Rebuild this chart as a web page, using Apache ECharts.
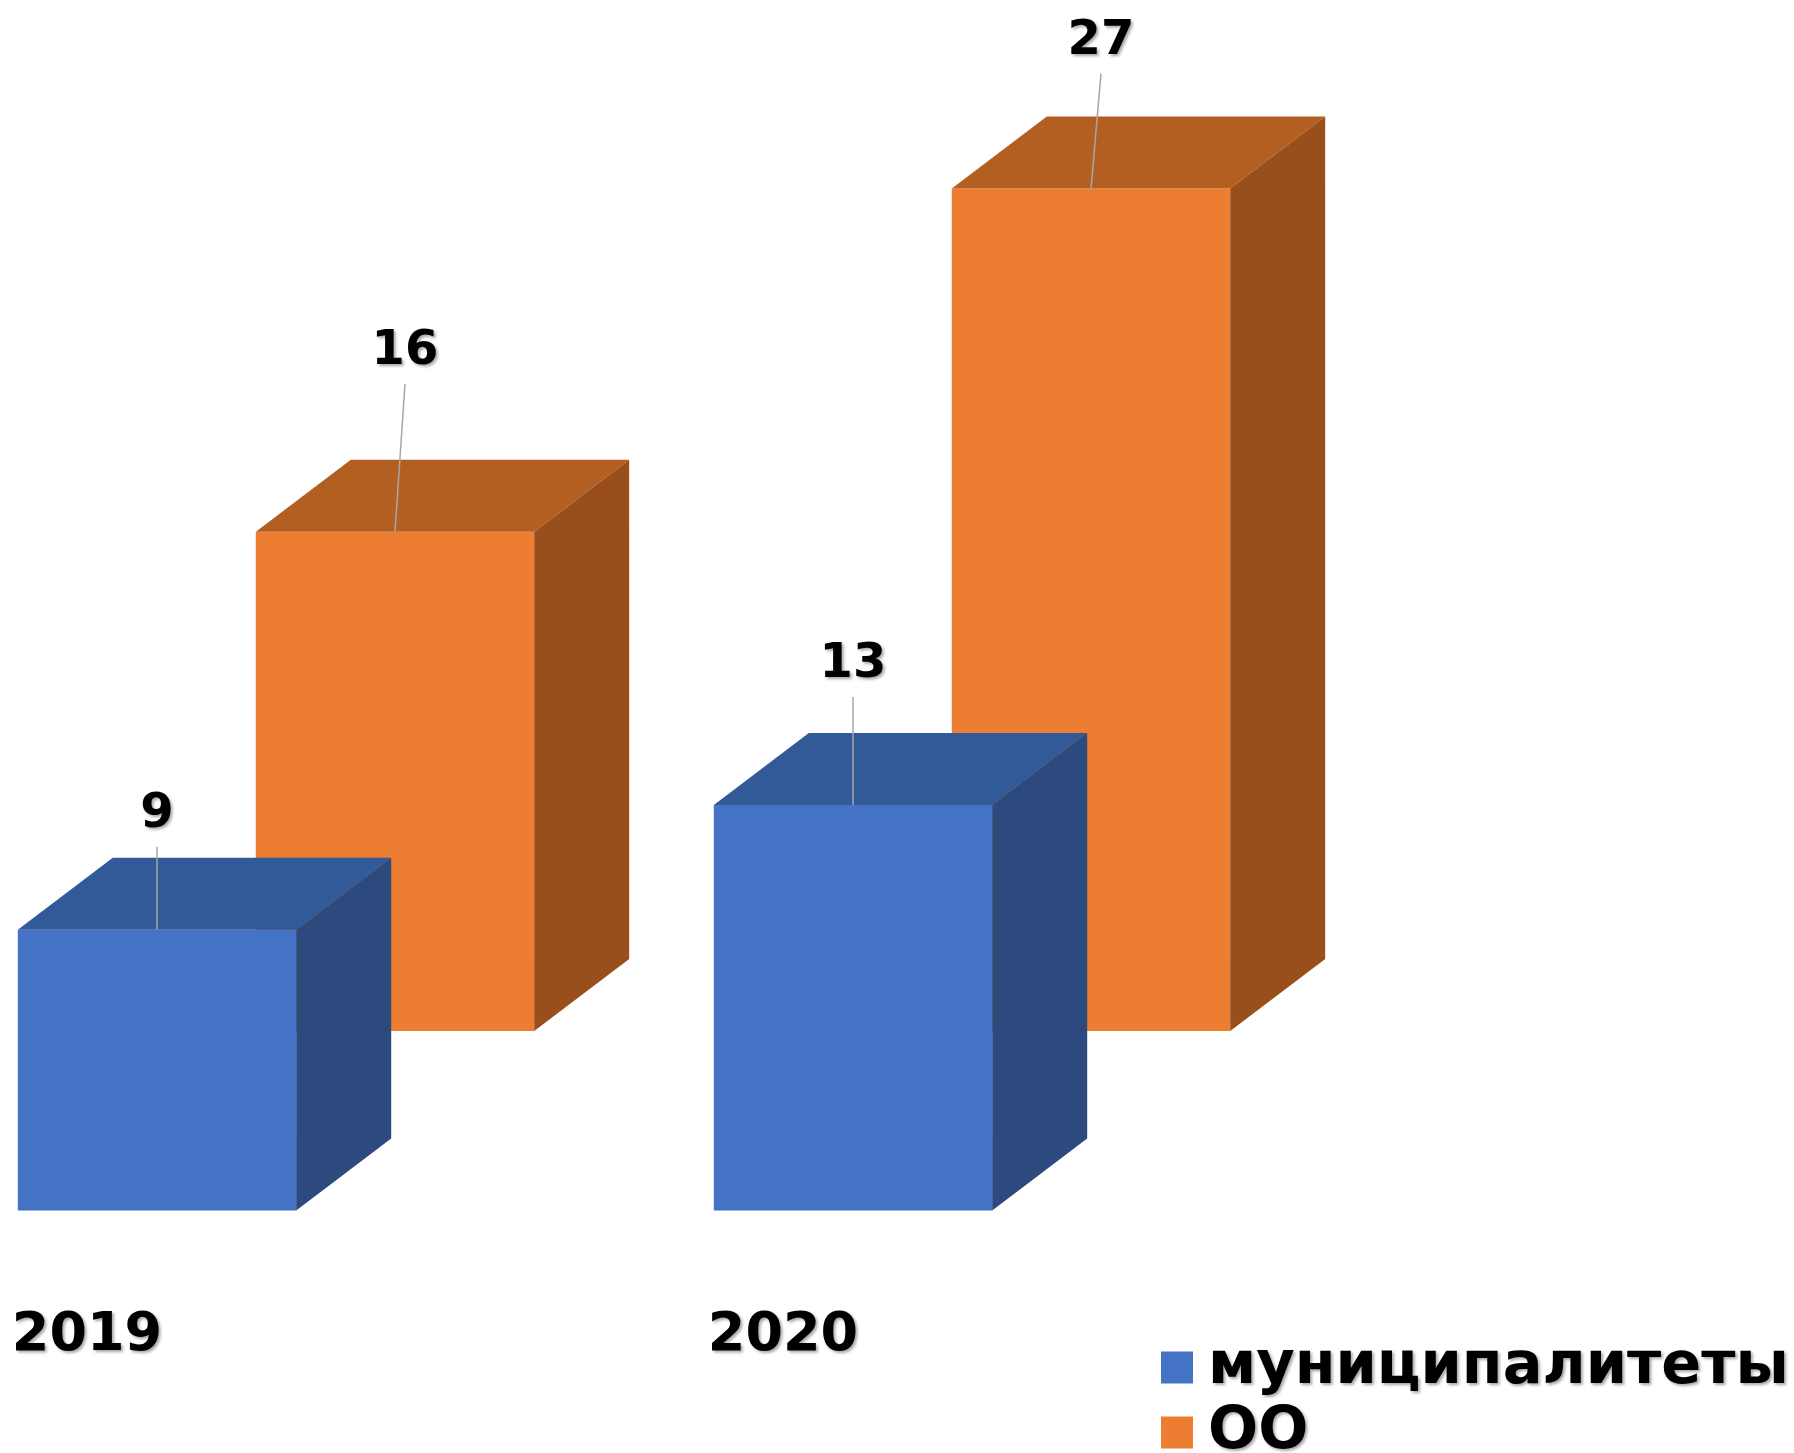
<!DOCTYPE html>
<html>
<head>
<meta charset="utf-8">
<script src="https://cdn.jsdelivr.net/npm/echarts@6/dist/echarts.min.js"></script>
<style>
  html, body { margin: 0; padding: 0; background: #fff; }
  #chart { width: 1794px; height: 1453px; }
</style>
</head>
<body>
<div id="chart"></div>
<script>
var years = ['2019', '2020'];
var seriesNames = ['муниципалитеты', 'ОО'];
var municipal = [9, 13];
var oo = [16, 27];

// цвета граней: лицевая, верх, бок
var faces = {
    'муниципалитеты': ['#4472c4', '#335a98', '#2c4a7e'],
    'ОО': ['#ed7d31', '#b35f22', '#994f1c']
};
var depth = [95, -72];          // глубина коробки
var rowShift = {                // второй ряд стоит дальше по глубине
    'муниципалитеты': [0, 0],
    'ОО': [238, -179.5]
};
// подъём подписи над коробкой (px), по годам
var labelLift = { 'муниципалитеты': [115, 140], 'ОО': [180, 147] };
var labelDx = { 'муниципалитеты': 0, 'ОО': 10 };

function box(name) {
    return function (params, api) {
        var band = api.size([1, 0])[0];
        var w = band * 0.4;
        var base = api.coord([api.value(0), 0]);
        var top = api.coord([api.value(0), api.value(1)]);
        var sh = rowShift[name];
        var c = faces[name];
        var x0 = base[0] - w / 2 + sh[0], x1 = x0 + w;
        var yb = base[1] + sh[1], yt = top[1] + sh[1];
        var dx = depth[0], dy = depth[1];
        var cx = (x0 + x1) / 2;
        var lx = cx + labelDx[name], ly = yt - labelLift[name][params.dataIndex];
        return {
            type: 'group',
            children: [
                { type: 'rect', shape: { x: x0, y: yt, width: w, height: yb - yt }, style: { fill: c[0] } },
                { type: 'polygon', shape: { points: [[x0, yt], [x1, yt], [x1 + dx, yt + dy], [x0 + dx, yt + dy]] }, style: { fill: c[1] } },
                { type: 'polygon', shape: { points: [[x1, yt], [x1 + dx, yt + dy], [x1 + dx, yb + dy], [x1, yb]] }, style: { fill: c[2] } },
                { type: 'line', shape: { x1: cx, y1: yt, x2: lx, y2: ly + 32 }, style: { stroke: '#a6a6a6', lineWidth: 1.5 } },
                {
                    type: 'text', x: lx, y: ly,
                    style: {
                        text: String(api.value(1)), align: 'center', verticalAlign: 'middle',
                        font: 'bold 48px "DejaVu Sans"', fill: '#000',
                        textShadowColor: 'rgba(0,0,0,0.35)', textShadowBlur: 3,
                        textShadowOffsetX: 2, textShadowOffsetY: 2
                    }
                }
            ]
        };
    };
}

function seriesData(vals) {
    var out = [];
    for (var k = 0; k < vals.length; k++) out.push([k, vals[k]]);
    return out;
}

var legendText = {
    fontFamily: 'DejaVu Sans', fontWeight: 'bold', fontSize: 59, color: '#000',
    lineHeight: 56, padding: [0, 0, 0, 10],
    textShadowColor: 'rgba(0,0,0,0.35)', textShadowBlur: 3,
    textShadowOffsetX: 2, textShadowOffsetY: 2
};
function legendItem(name, top) {
    return {
        data: [name], orient: 'vertical', left: 1161, top: top, padding: 0,
        itemWidth: 32, itemHeight: 32, icon: 'rect', textStyle: legendText
    };
}

var chart = echarts.init(document.getElementById('chart'));
var option = {
    animation: false,
    backgroundColor: '#fff',
    grid: { left: 157, width: 696, top: 274.5, height: 936 },
    legend: [legendItem(seriesNames[0], 1338), legendItem(seriesNames[1], 1403)],
    xAxis: {
        type: 'category',
        data: years,
        boundaryGap: false,
        axisLine: { show: false },
        axisTick: { show: false },
        axisLabel: {
            margin: 98,
            padding: [0, 140, 0, 0],
            fontFamily: 'DejaVu Sans', fontWeight: 'bold', fontSize: 54, color: '#000',
            textShadowColor: 'rgba(0,0,0,0.35)', textShadowBlur: 3,
            textShadowOffsetX: 2, textShadowOffsetY: 2
        }
    },
    yAxis: {
        type: 'value', min: 0, max: 30, show: false, splitLine: { show: false }
    },
    series: [
        {
            name: 'ОО', type: 'custom', color: faces['ОО'][0],
            renderItem: box('ОО'), data: seriesData(oo)
        },
        {
            name: 'муниципалитеты', type: 'custom', color: faces['муниципалитеты'][0],
            renderItem: box('муниципалитеты'), data: seriesData(municipal)
        }
    ]
};
chart.setOption(option);
</script>
</body>
</html>
